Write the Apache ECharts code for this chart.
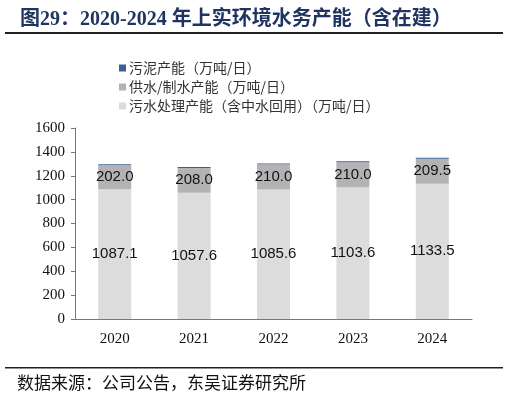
<!DOCTYPE html>
<html>
<head>
<meta charset="utf-8">
<script src="https://cdn.jsdelivr.net/npm/echarts@6/dist/echarts.min.js"></script>
<style>
html, body { margin: 0; padding: 0; background: #fff; }
#main { width: 509px; height: 402px; }
</style>
</head>
<body>
<div id="main"></div>
<script>
var years = ['2020', '2021', '2022', '2023', '2024'];
var sewage = [1087.1, 1057.6, 1085.6, 1103.6, 1133.5];
var supply = [202.0, 208.0, 210.0, 210.0, 209.5];
var sludge = [8, 8, 8, 8, 8];
var yTicks = [0, 200, 400, 600, 800, 1000, 1200, 1400, 1600];

var chart = echarts.init(document.getElementById('main'));
var option = {
    animation: false,
    title: {
        text: '图29：2020-2024 年上实环境水务产能（含在建）',
        left: 15,
        top: 5,
        textStyle: {
            fontFamily: 'Liberation Serif, "Noto Sans CJK SC", serif',
            fontSize: 20,
            fontWeight: 'bold',
            color: '#1f3560'
        }
    },
    graphic: [
        { type: 'rect', shape: { x: 5, y: 32, width: 498, height: 2 }, style: { fill: '#222' } },
        { type: 'rect', shape: { x: 5, y: 367, width: 498, height: 1.5 }, style: { fill: '#222' } },
        {
            type: 'text', left: 17, top: 374,
            style: { text: '数据来源：公司公告，东吴证券研究所', font: '17px "Noto Sans CJK SC"', fill: '#111' }
        }
    ],
    legend: {
        orient: 'vertical',
        left: 114,
        top: 56,
        itemWidth: 7,
        itemHeight: 7,
        itemGap: 5,
        icon: 'rect',
        data: ['污泥产能（万吨/日）', '供水/制水产能（万吨/日）', '污水处理产能（含中水回用）（万吨/日）'],
        textStyle: { fontFamily: '"Noto Sans CJK SC"', fontSize: 14, color: '#333', padding: [0, 0, 0, -2] }
    },
    grid: { left: 75, right: 37, top: 128, bottom: 83 },
    xAxis: {
        type: 'category',
        data: years,
        axisLine: { lineStyle: { color: '#777' } },
        axisTick: { inside: true, length: 4, lineStyle: { color: '#777' } },
        axisLabel: { fontFamily: 'Liberation Serif', fontSize: 15, color: '#111', margin: 13 }
    },
    yAxis: {
        type: 'value',
        min: yTicks[0],
        max: yTicks[yTicks.length - 1],
        interval: 200,
        splitLine: { show: false },
        axisLine: { show: true, lineStyle: { color: '#777' } },
        axisTick: { show: true, length: 4, lineStyle: { color: '#777' } },
        axisLabel: {
            fontFamily: 'Liberation Serif', fontSize: 15, color: '#111', margin: 10,
            formatter: function (v) { return String(v); }
        }
    },
    series: [
        {
            name: '污水处理产能（含中水回用）（万吨/日）',
            type: 'bar', stack: 'cap', barWidth: 33,
            data: sewage,
            itemStyle: { color: '#dcdcdc' },
            label: {
                show: true, position: 'inside',
                formatter: function (p) { return p.value.toFixed(1); },
                fontFamily: 'Liberation Sans', fontSize: 15, color: '#111'
            }
        },
        {
            name: '供水/制水产能（万吨/日）',
            type: 'bar', stack: 'cap', barWidth: 33,
            data: supply,
            itemStyle: { color: '#b3b3b3' },
            label: {
                show: true, position: 'inside',
                formatter: function (p) { return p.value.toFixed(1); },
                fontFamily: 'Liberation Sans', fontSize: 15, color: '#111'
            }
        },
        {
            name: '污泥产能（万吨/日）',
            type: 'bar', stack: 'cap', barWidth: 33,
            data: sludge,
            itemStyle: { color: '#3a5f94' }
        }
    ]
};
chart.setOption(option);
window.addEventListener('resize', chart.resize);
</script>
</body>
</html>
